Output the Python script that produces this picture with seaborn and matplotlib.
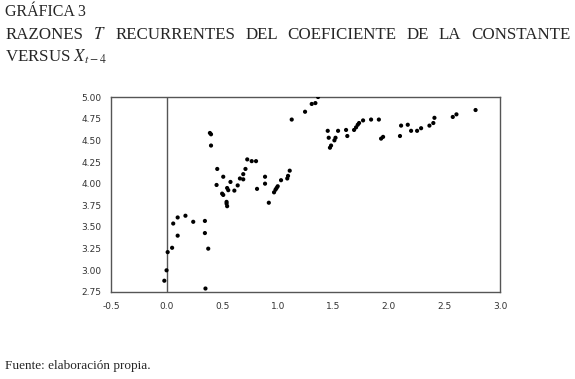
import matplotlib
matplotlib.use('Agg')
import matplotlib.pyplot as plt
import seaborn as sns
import pandas as pd

# recursive t ratios of the constant vs X(t-4)
x_vals = [-0.02, 0.00, 0.01, 0.05, 0.06, 0.10, 0.10, 0.17, 0.24, 0.345, 0.345, 0.375, 0.35,
          0.54, 0.54, 0.545,
          0.39, 0.40, 0.40, 0.456, 0.51, 0.45, 0.50, 0.51, 0.545, 0.555, 0.575, 0.61, 0.64,
          0.66, 0.69, 0.69, 0.71, 0.726, 0.766, 0.805, 0.814, 0.886, 0.886, 0.92, 0.967,
          0.98, 0.99, 1.00, 1.03, 1.086, 1.093, 1.108,
          1.126, 1.246, 1.306, 1.339, 1.363,
          1.45, 1.459, 1.47, 1.48, 1.51, 1.52, 1.543, 1.615, 1.626, 1.687, 1.705, 1.72,
          1.732, 1.768, 1.84, 1.91, 1.93, 1.948,
          2.10, 2.11, 2.17, 2.20, 2.254, 2.29, 2.365, 2.40, 2.41, 2.575, 2.608, 2.78]
t_vals = [2.88, 3.00, 3.21, 3.26, 3.54, 3.61, 3.40, 3.63, 3.56, 3.57, 3.43, 3.25, 2.79,
          3.79, 3.77, 3.74,
          4.585, 4.57, 4.44, 4.17, 4.08, 3.985, 3.885, 3.87, 3.95, 3.925, 4.02, 3.92, 3.98,
          4.06, 4.05, 4.11, 4.17, 4.28, 4.26, 4.26, 3.94, 4.08, 4.00, 3.78, 3.90,
          3.93, 3.95, 3.97, 4.04, 4.06, 4.09, 4.15,
          4.74, 4.83, 4.92, 4.93, 5.00,
          4.61, 4.53, 4.415, 4.44, 4.50, 4.53, 4.61, 4.62, 4.55, 4.62, 4.65, 4.68,
          4.70, 4.73, 4.74, 4.74, 4.52, 4.54,
          4.55, 4.67, 4.68, 4.61, 4.61, 4.64, 4.67, 4.70, 4.76, 4.77, 4.80, 4.85]

x_ticks = [-0.5, 0.0, 0.5, 1.0, 1.5, 2.0, 2.5, 3.0]
y_ticks = [2.75, 3.00, 3.25, 3.50, 3.75, 4.00, 4.25, 4.50, 4.75, 5.00]

title_words = ['RAZONES', '$T$', 'RECURRENTES', 'DEL', 'COEFICIENTE', 'DE', 'LA', 'CONSTANTE']

df = pd.DataFrame({'x': x_vals, 't': t_vals})

sns.set_style('white')
plt.rcParams['mathtext.fontset'] = 'stix'

fig = plt.figure(figsize=(5.75, 3.79), dpi=100)
ax = fig.add_axes([0.193, 0.2296, 0.6766, 0.5144])

ax.axvline(0, color='#555555', lw=1.0, zorder=1)
sns.scatterplot(data=df, x='x', y='t', ax=ax, color='black', s=9,
                edgecolor='none', zorder=3)

ax.set_xlim(-0.5, 3.0)
ax.set_ylim(2.75, 5.00)
ax.set_xticks(x_ticks)
ax.set_xticklabels([f'{v:.1f}' for v in x_ticks])
ax.set_yticks(y_ticks)
ax.set_yticklabels([f'{v:.2f}' for v in y_ticks])
ax.set_xlabel('')
ax.set_ylabel('')
ax.tick_params(axis='both', direction='out', length=4, width=0.8, color='#555555',
               labelsize=6.5, labelcolor='#333333', pad=3)
for sp in ax.spines.values():
    sp.set_color('#555555')
    sp.set_linewidth(1.0)

serif = ['Liberation Serif', 'DejaVu Serif']
fig.text(0.009, 0.99, 'GRÁFICA 3', family=serif, fontsize=11.5, va='top')
fig.text(0.009, 0.875, 'VERSUS $X_{t-4}$', family=serif, fontsize=12.2, va='top')
fig.text(0.009, 0.05, 'Fuente: elaboración propia.', family=serif, fontsize=9.5, va='top')

# second title line is justified across the page width
renderer = fig.canvas.get_renderer()
left, right = 0.009, 0.992
items = [fig.text(0, 0.93, w, family=serif, fontsize=12.2, va='top') for w in title_words]
widths = [t.get_window_extent(renderer).width / fig.bbox.width for t in items]
gap = (right - left - sum(widths)) / (len(items) - 1)
pos = left
for t, w in zip(items, widths):
    t.set_x(pos)
    pos += w + gap

fig.savefig('out.png', dpi=100, facecolor='white')
